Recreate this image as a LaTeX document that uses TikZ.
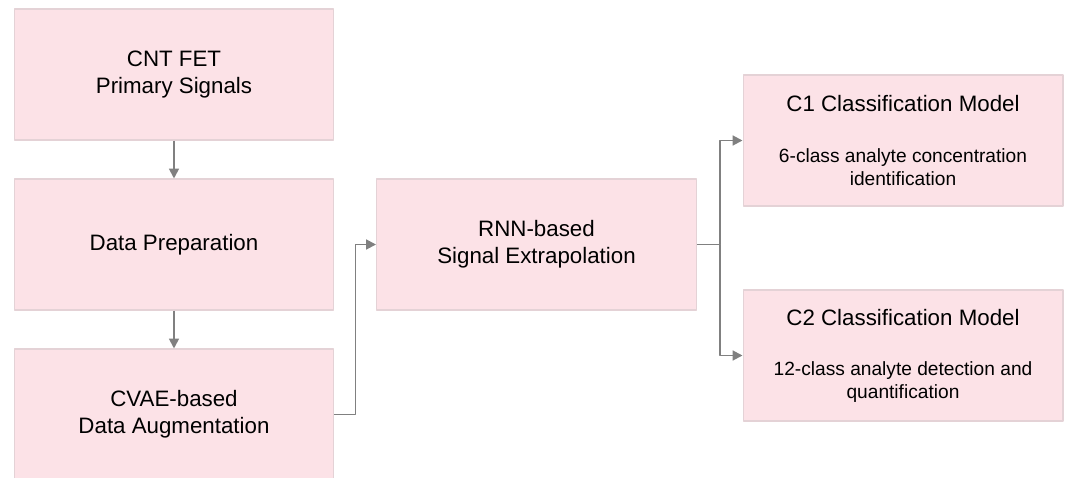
\documentclass[tikz,border=0pt]{standalone}
\usepackage{fontspec}
\setmainfont{Liberation Sans}
\usetikzlibrary{arrows.meta}
\definecolor{boxpink}{RGB}{252,226,231}
\definecolor{boxline}{RGB}{228,210,214}
\definecolor{arrgray}{RGB}{128,128,128}
\newcommand{\bigtxt}{\fontsize{12.7}{15.2}\selectfont}
\newcommand{\smalltxt}{\fontsize{10.9}{12.9}\selectfont}
\tikzset{
	stage/.style={draw=boxline, line width=.6pt, fill=boxpink, minimum width=6.4cm, minimum height=2.62cm, align=center, inner sep=0pt, font=\bigtxt},
	model/.style={stage, font=\smalltxt},
	arr/.style={draw=arrgray, line width=1.1pt, -{Triangle[length=5.6pt,width=5.6pt]}}
}
\begin{document}
	\begin{tikzpicture}[x=.02cm, y=-.02cm, line join=round]
			\useasboundingbox (0,0) rectangle (1069,477);
			\node[stage] (cnt) at (174,74.5) {CNT FET\\Primary Signals};
			\node[stage] (prep) at (174,244.5) {Data Preparation};
			\node[stage] (cvae) at (174,414.5) {CVAE-based\\Data Augmentation};
			\node[stage] (rnn) at (536.5,244.5) {RNN-based\\Signal Extrapolation};
			\node[model] (cone) at (903,140.5) {{\bigtxt C1 Classification Model}\\[15.8pt]6-class analyte concentration\\identification};
			\node[model] (ctwo) at (903,355.5) {{\bigtxt C2 Classification Model}\\[15.8pt]12-class analyte detection and\\quantification};
			\draw[arr] (cnt) -- (prep);
			\draw[arr] (prep) -- (cvae);
			\draw[arr] (cvae.east) -- ++(21,0) |- (rnn.west);
			\draw[arr] (rnn.east) -- ++(23,0) |- (cone.west);
			\draw[arr] (rnn.east) -- ++(23,0) |- (ctwo.west);
	\end{tikzpicture}
\end{document}
